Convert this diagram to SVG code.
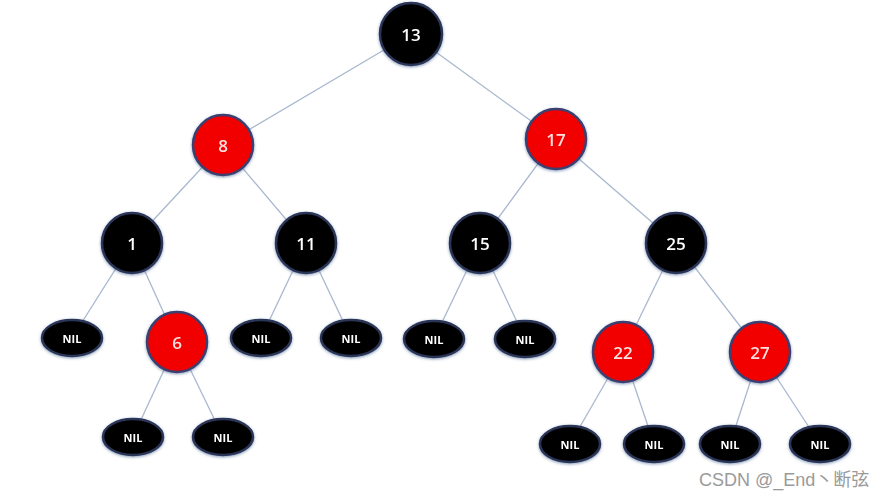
<svg xmlns="http://www.w3.org/2000/svg" width="889" height="498" viewBox="0 0 889 498">
<style>
.e{stroke:#a9b8cf;stroke-width:1.3;fill:none}
.b{fill:#000;stroke:#2a3658;stroke-width:2.5}
.r{fill:#f20000;stroke:#3a3f70;stroke-width:2.5}
.t{font-family:"Open Sans","Liberation Sans",sans-serif;font-size:17px;font-weight:600;fill:#fff;text-anchor:middle;dominant-baseline:central}
.tr{fill:#ffe0e0}
.n{font-family:"Open Sans","Liberation Sans",sans-serif;font-size:11px;font-weight:bold;fill:#fff;text-anchor:middle;dominant-baseline:central}
.w{font-family:"Liberation Sans","Noto Sans CJK SC",sans-serif;font-size:18px;fill:#9a9a9a}
</style>
<defs>
<filter id="g" x="-30%" y="-30%" width="160%" height="160%">
<feGaussianBlur in="SourceAlpha" stdDeviation="1.5"/>
<feOffset dx="0" dy="1" result="o"/>
<feFlood flood-color="#3b5a8a" flood-opacity="0.6"/>
<feComposite in2="o" operator="in"/>
<feMerge><feMergeNode/><feMergeNode in="SourceGraphic"/></feMerge>
</filter>
</defs>
<rect width="889" height="498" fill="#fff"/>
<g id="connectors">
<line class="e" x1="411" y1="34" x2="223" y2="145"/>
<line class="e" x1="411" y1="34" x2="556" y2="139"/>
<line class="e" x1="223" y1="145" x2="132" y2="243"/>
<line class="e" x1="223" y1="145" x2="306" y2="243"/>
<line class="e" x1="556" y1="139" x2="480" y2="243"/>
<line class="e" x1="556" y1="139" x2="676" y2="243"/>
<line class="e" x1="132" y1="243" x2="72" y2="338"/>
<line class="e" x1="132" y1="243" x2="177" y2="342"/>
<line class="e" x1="306" y1="243" x2="261" y2="338"/>
<line class="e" x1="306" y1="243" x2="351" y2="338"/>
<line class="e" x1="480" y1="243" x2="434" y2="339"/>
<line class="e" x1="480" y1="243" x2="525" y2="339"/>
<line class="e" x1="676" y1="243" x2="623" y2="352"/>
<line class="e" x1="676" y1="243" x2="760" y2="352"/>
<line class="e" x1="177" y1="342" x2="133" y2="437"/>
<line class="e" x1="177" y1="342" x2="223" y2="437"/>
<line class="e" x1="623" y1="352" x2="570" y2="444"/>
<line class="e" x1="623" y1="352" x2="654" y2="444"/>
<line class="e" x1="760" y1="352" x2="730" y2="444"/>
<line class="e" x1="760" y1="352" x2="820" y2="444"/>
</g>
<g filter="url(#g)">
<g id="n13"><circle class="b" cx="411" cy="34" r="31"/><text class="t" x="411" y="34">13</text></g>
<g id="n8"><circle class="r" cx="223" cy="145" r="30"/><text class="t tr" x="223" y="145">8</text></g>
<g id="n17"><circle class="r" cx="556" cy="139" r="30"/><text class="t tr" x="556" y="139">17</text></g>
<g id="n1"><circle class="b" cx="132" cy="243" r="30"/><text class="t" x="132" y="243">1</text></g>
<g id="n11"><circle class="b" cx="306" cy="243" r="30"/><text class="t" x="306" y="243">11</text></g>
<g id="n15"><circle class="b" cx="480" cy="243" r="30"/><text class="t" x="480" y="243">15</text></g>
<g id="n25"><circle class="b" cx="676" cy="243" r="30"/><text class="t" x="676" y="243">25</text></g>
<g id="n6"><circle class="r" cx="177" cy="342" r="30"/><text class="t tr" x="177" y="342">6</text></g>
<g id="n22"><circle class="r" cx="623" cy="352" r="30"/><text class="t tr" x="623" y="352">22</text></g>
<g id="n27"><circle class="r" cx="760" cy="352" r="30"/><text class="t tr" x="760" y="352">27</text></g>
<g id="nil1"><ellipse class="b" cx="72" cy="338" rx="30" ry="18"/><text class="n" x="72" y="338">NIL</text></g>
<g id="nil2"><ellipse class="b" cx="261" cy="338" rx="30" ry="18"/><text class="n" x="261" y="338">NIL</text></g>
<g id="nil3"><ellipse class="b" cx="351" cy="338" rx="30" ry="18"/><text class="n" x="351" y="338">NIL</text></g>
<g id="nil4"><ellipse class="b" cx="434" cy="339" rx="30" ry="18"/><text class="n" x="434" y="339">NIL</text></g>
<g id="nil5"><ellipse class="b" cx="525" cy="339" rx="30" ry="18"/><text class="n" x="525" y="339">NIL</text></g>
<g id="nil6"><ellipse class="b" cx="133" cy="437" rx="30" ry="18"/><text class="n" x="133" y="437">NIL</text></g>
<g id="nil7"><ellipse class="b" cx="223" cy="437" rx="30" ry="18"/><text class="n" x="223" y="437">NIL</text></g>
<g id="nil8"><ellipse class="b" cx="570" cy="444" rx="30" ry="18"/><text class="n" x="570" y="444">NIL</text></g>
<g id="nil9"><ellipse class="b" cx="654" cy="444" rx="30" ry="18"/><text class="n" x="654" y="444">NIL</text></g>
<g id="nil10"><ellipse class="b" cx="730" cy="444" rx="30" ry="18"/><text class="n" x="730" y="444">NIL</text></g>
<g id="nil11"><ellipse class="b" cx="820" cy="444" rx="30" ry="18"/><text class="n" x="820" y="444">NIL</text></g>
</g>
<text class="w" x="699" y="486">CSDN @_End丶断弦</text>
</svg>
